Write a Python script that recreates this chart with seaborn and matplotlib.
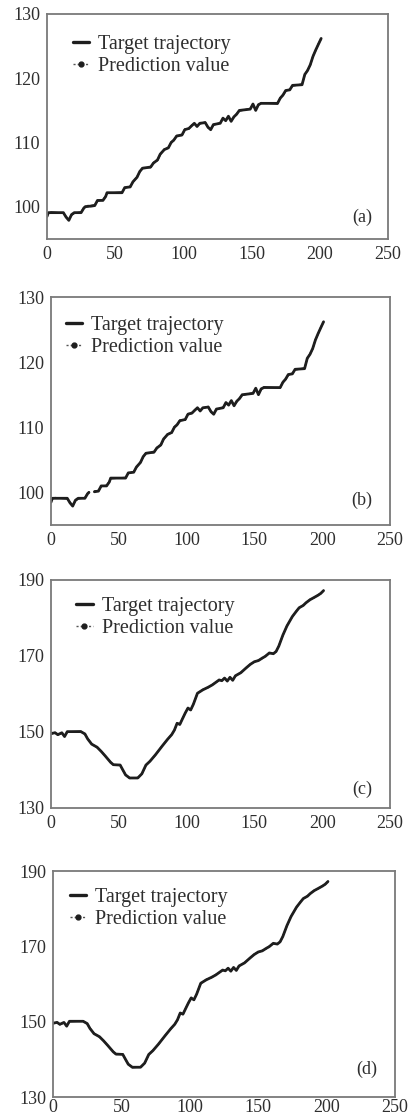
import numpy as np
import pandas as pd
import matplotlib
matplotlib.use("Agg")
import matplotlib.pyplot as plt
from matplotlib.lines import Line2D
import seaborn as sns

# ---------------- data ----------------
series_names = ["Target trajectory", "Prediction value"]
panel_tags = ["(a)", "(b)", "(c)", "(d)"]
x_ticks = [0, 50, 100, 150, 200, 250]
y_ticks_ab = [100, 110, 120, 130]
y_ticks_cd = [130, 150, 170, 190]

# panels (a) and (b): same trajectory
x_ab = [0, 1, 3, 12, 14, 16, 18, 20, 25, 27,
        28, 30, 32, 35, 37, 41, 43, 44, 55, 57,
        61, 63, 66, 68, 70, 76, 78, 81, 83, 86,
        89, 91, 93, 95, 99, 101, 104, 106, 108, 110,
        112, 116, 118, 120, 122, 127, 129, 131, 133, 135,
        137, 139, 141, 149, 151, 153, 155, 157, 169, 171,
        173, 175, 178, 180, 187, 189, 191, 193, 195, 197,
        199, 201]
target_ab = [98.5, 99.1, 99.1, 99.1, 98.4, 97.9, 98.8, 99.1, 99.1, 99.8,
             100.0, 100.1, 100.1, 100.2, 101.0, 101.0, 101.6, 102.2, 102.2, 103.0,
             103.1, 103.9, 104.6, 105.5, 106.0, 106.2, 106.8, 107.3, 108.2, 108.9,
             109.2, 110.0, 110.4, 111.0, 111.2, 112.0, 112.2, 112.6, 113.0, 112.5,
             113.0, 113.1, 112.4, 112.0, 112.8, 113.0, 113.8, 113.4, 114.1, 113.3,
             114.0, 114.4, 115.0, 115.2, 116.0, 115.0, 115.9, 116.1, 116.1, 116.9,
             117.4, 118.1, 118.2, 118.9, 119.0, 120.6, 121.2, 122.1, 123.4, 124.4,
             125.3, 126.2]
pred_ab = [98.7, 99.0, 99.2, 99.0, 98.5, 98.0, 98.7, 99.0, 99.2, 99.9,
           100.1, 100.0, 100.2, 100.3, 100.9, 101.1, 101.7, 102.1, 102.3, 102.9,
           103.2, 103.8, 104.7, 105.4, 106.1, 106.1, 106.9, 107.2, 108.1, 109.0,
           109.1, 110.1, 110.3, 111.1, 111.1, 112.1, 112.1, 112.7, 112.9, 112.6,
           112.9, 113.2, 112.3, 112.1, 112.7, 113.1, 113.7, 113.5, 114.0, 113.4,
           113.9, 114.5, 114.9, 115.3, 115.9, 115.1, 115.8, 116.2, 116.0, 117.0,
           117.3, 118.0, 118.3, 118.8, 119.1, 120.5, 121.3, 122.0, 123.5, 124.3,
           125.4, 126.1]
# x positions with no data shown in panel (b)
missing_x_b = [30]

# panels (c) and (d): same trajectory
x_cd = [0, 3, 5, 8, 10, 12, 22, 25, 27, 30,
        34, 37, 40, 44, 46, 51, 53, 55, 58, 64,
        67, 70, 73, 77, 82, 86, 89, 91, 93, 95,
        97, 99, 101, 103, 105, 108, 112, 116, 119, 124,
        126, 128, 130, 132, 134, 136, 140, 144, 147, 150,
        153, 156, 158, 161, 164, 166, 168, 171, 174, 178,
        181, 183, 186, 188, 191, 194, 197, 199, 201]
target_cd = [149.6, 149.8, 149.3, 149.8, 148.8, 150.1, 150.1, 149.5, 148.2, 146.8,
             146.0, 144.9, 143.7, 142.0, 141.4, 141.3, 140.0, 138.7, 137.9, 137.9,
             139.0, 141.3, 142.3, 144.0, 146.3, 148.1, 149.3, 150.5, 152.3, 152.0,
             153.5, 155.0, 156.3, 155.8, 157.3, 160.2, 161.1, 161.8, 162.4, 163.7,
             163.5, 164.2, 163.4, 164.4, 163.6, 164.8, 165.6, 166.9, 167.8, 168.5,
             168.8, 169.5, 169.9, 170.8, 170.6, 171.2, 172.6, 175.5, 177.9, 180.4,
             181.8, 182.7, 183.3, 184.0, 184.8, 185.4, 186.0, 186.5, 187.2]
pred_cd = [149.4, 149.9, 149.2, 149.7, 148.9, 150.0, 150.2, 149.4, 148.3, 146.9,
           145.9, 145.0, 143.6, 142.1, 141.3, 141.4, 139.9, 138.8, 137.8, 138.0,
           138.9, 141.2, 142.4, 143.9, 146.4, 148.0, 149.4, 150.4, 152.4, 151.9,
           153.6, 154.9, 156.4, 155.7, 157.4, 160.1, 161.2, 161.7, 162.5, 163.6,
           163.6, 164.1, 163.5, 164.3, 163.7, 164.7, 165.7, 166.8, 167.9, 168.4,
           168.9, 169.4, 170.0, 170.7, 170.7, 171.1, 172.7, 175.4, 178.0, 180.3,
           181.9, 182.6, 183.4, 183.9, 184.9, 185.3, 186.1, 186.4, 187.3]

assert len(x_ab) == len(target_ab) == len(pred_ab)
assert len(x_cd) == len(target_cd) == len(pred_cd)

# ---------------- style ----------------
sns.set_theme(style="white")
plt.rcParams["font.family"] = ["Liberation Serif", "DejaVu Serif"]
TEXT = "#2e2e2e"
SPINE = "#7a7a7a"
LINE = "#1e1e1e"

fig = plt.figure(figsize=(4.11, 11.19), dpi=100)
W, H = 411.0, 1119.0

# axes boxes in pixels: left, top, right, bottom
boxes = [(47, 14, 388, 239),
         (51, 297, 390, 525),
         (51, 580, 390, 808),
         (53, 871, 395, 1097)]
tag_pos = [(0.924, 0.095), (0.917, 0.11), (0.917, 0.08), (0.918, 0.123)]
leg_anchor = [(0.075, 0.905), (0.045, 0.915), (0.075, 0.925), (0.05, 0.925)]
xlabel_pad = [5, 5, 5, 1.5]


def draw_series(ax, x, y, lw):
    x = np.asarray(x, float)
    y = np.asarray(y, float)
    idx = np.flatnonzero(~np.isnan(y))
    runs = np.split(idx, np.where(np.diff(idx) != 1)[0] + 1)
    for r in runs:
        df = pd.DataFrame({"x": x[r], "y": y[r]})
        sns.lineplot(data=df, x="x", y="y", ax=ax, estimator=None, sort=False,
                     color=LINE, lw=lw, legend=False)


panels = [
    (x_ab, target_ab, pred_ab, [], (95, 130), y_ticks_ab),
    (x_ab, target_ab, pred_ab, missing_x_b, (95, 130), y_ticks_ab),
    (x_cd, target_cd, pred_cd, [], (130, 190), y_ticks_cd),
    (x_cd, target_cd, pred_cd, [], (130, 190), y_ticks_cd),
]

for i, (xs, tgt, prd, miss, ylim, yt) in enumerate(panels):
    l, t, r, b = boxes[i]
    ax = fig.add_axes([l / W, 1 - b / H, (r - l) / W, (b - t) / H])
    tgt = [np.nan if xv in miss else v for xv, v in zip(xs, tgt)]
    prd = [np.nan if xv in miss else v for xv, v in zip(xs, prd)]
    draw_series(ax, xs, tgt, 2.0)
    draw_series(ax, xs, prd, 1.1)

    ax.set_xlim(0, 250)
    ax.set_ylim(*ylim)
    ax.set_xticks(x_ticks)
    ax.set_yticks(yt)
    ax.set_xlabel("")
    ax.set_ylabel("")
    ax.tick_params(direction="in", length=3, width=1, color=SPINE,
                   labelsize=13, labelcolor=TEXT, pad=5)
    ax.tick_params(axis="x", pad=xlabel_pad[i])
    for s in ax.spines.values():
        s.set_visible(True)
        s.set_color(SPINE)
        s.set_linewidth(1.3)

    ax.text(tag_pos[i][0], tag_pos[i][1], panel_tags[i], transform=ax.transAxes,
            ha="center", va="center", fontsize=13, color=TEXT)

    handles = [
        Line2D([], [], color=LINE, lw=2.4, ls="-"),
        Line2D([], [], color="#555555", lw=1.0, ls=(0, (1.5, 1.5)),
               marker="o", markersize=3.5, markerfacecolor=LINE,
               markeredgecolor=LINE),
    ]
    ax.legend(handles, series_names, loc="upper left",
              bbox_to_anchor=leg_anchor[i], frameon=False, fontsize=14.5,
              handlelength=0.8, handletextpad=0.45, labelspacing=0.12,
              borderpad=0, borderaxespad=0, labelcolor=TEXT)

fig.savefig("out.png", dpi=100)
